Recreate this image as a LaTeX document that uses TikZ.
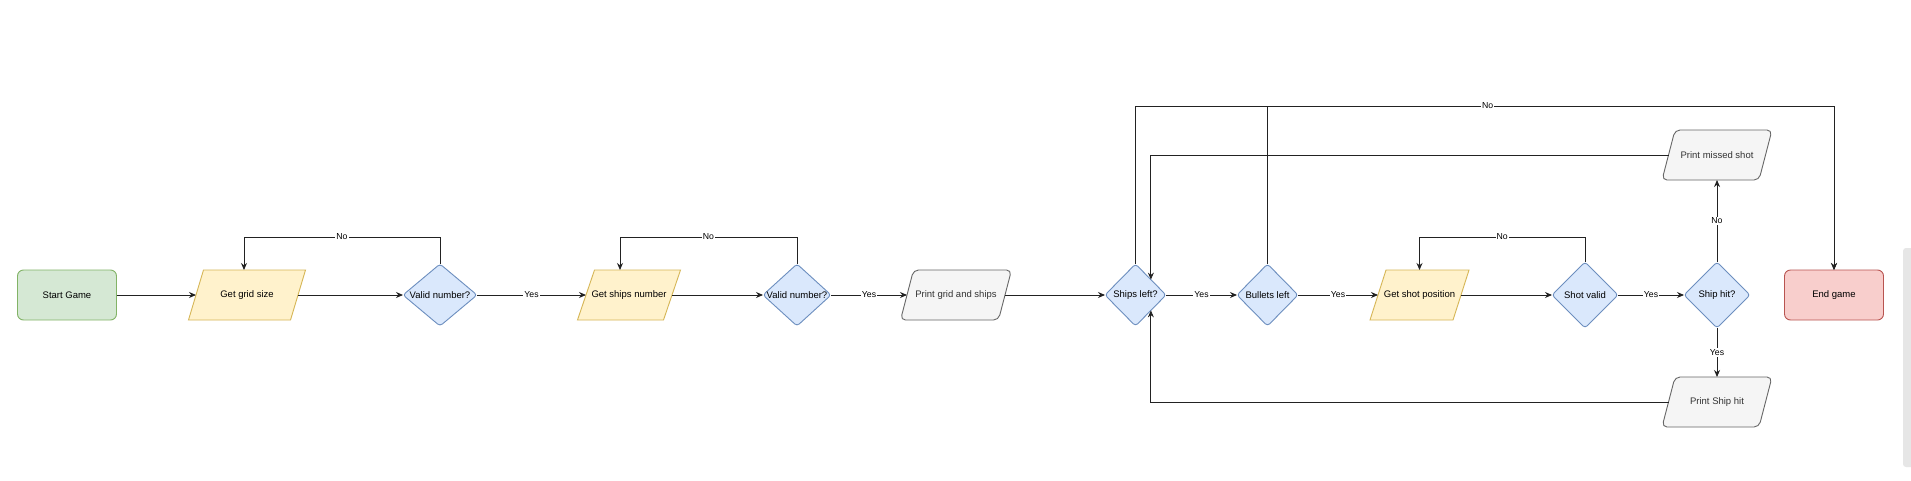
\documentclass[tikz,border=0pt]{standalone}
\usepackage{fontspec}
\setmainfont{Liberation Sans}
\usetikzlibrary{shapes.geometric,arrows.meta,backgrounds,calc}
\definecolor{gfill}{HTML}{D5E8D4}\definecolor{gline}{HTML}{82B366}
\definecolor{yfill}{HTML}{FFF2CC}\definecolor{yline}{HTML}{D6B656}
\definecolor{bfill}{HTML}{DAE8FC}\definecolor{bline}{HTML}{6C8EBF}
\definecolor{sfill}{HTML}{F5F5F5}\definecolor{sline}{HTML}{666666}\definecolor{stext}{HTML}{333333}
\definecolor{rfill}{HTML}{F8CECC}\definecolor{rline}{HTML}{B85450}
\definecolor{edgec}{HTML}{222222}
\definecolor{scrollc}{HTML}{E6E6E6}
\newcommand\mypara[3]{\draw[#3] ([xshift=#2/2]#1.north west) -- ([xshift=#2/2]#1.north east) -- ([xshift=-#2/2]#1.south east) -- ([xshift=-#2/2]#1.south west) -- cycle;}
\begin{document}
\begin{tikzpicture}[x=1pt,y=-1pt,font=\fontsize{9.5}{11}\selectfont,
  box/.style={rectangle,inner sep=0pt,outer sep=0pt,minimum height=50pt,text=black},
  term/.style={box,draw,line width=0.9pt,rounded corners=6pt,minimum width=99pt},
  dia/.style={diamond,draw=bline,fill=bfill,inner sep=0pt,outer sep=0pt,rounded corners=3pt,line width=0.9pt},
  ypara/.style={draw=yline,fill=yfill,line width=0.9pt},
  gpara/.style={draw=sline,fill=sfill,line width=0.9pt,rounded corners=5pt},
  arr/.style={draw=edgec,line width=0.9pt,-{Stealth[length=7pt,width=6pt]}},
  lbl/.style={fill=white,inner sep=1pt,font=\fontsize{8.7}{10}\selectfont,text=black}]
\useasboundingbox (0,0) rectangle (1911,480);

\node[term,draw=gline,fill=gfill] (start) at (67,295) {Start Game};
\node[box,minimum width=102pt] (grid) at (247,295) {Get grid size};
\node[dia,minimum width=74pt,minimum height=62pt,label=center:{Valid number?}] (v1) at (440,295) {};
\node[box,minimum width=86pt] (ships) at (629,295) {Get ships number};
\node[dia,minimum width=68pt,minimum height=62pt,label=center:{Valid number?}] (v2) at (797,295) {};
\node[box,minimum width=98pt,text=stext] (pgrid) at (956,295) {Print grid and ships};
\node[dia,minimum width=61pt,minimum height=62pt,label=center:{Ships left?}] (left) at (1135.5,295) {};
\node[dia,minimum width=61pt,minimum height=62pt,label=center:{Bullets left}] (bul) at (1267.5,295) {};
\node[box,minimum width=83pt] (shot) at (1419.5,295) {Get shot position};
\node[dia,minimum width=66pt,minimum height=66pt,label=center:{Shot valid}] (sv) at (1585,295) {};
\node[dia,minimum width=66pt,minimum height=66pt,label=center:{Ship hit?}] (hit) at (1717,295) {};
\node[box,minimum width=97pt,text=stext] (miss) at (1717,155) {Print missed shot};
\node[box,minimum width=97pt,text=stext] (phit) at (1717,402) {Print Ship hit};
\node[term,draw=rline,fill=rfill] (endg) at (1834,295) {End game};

\begin{scope}[on background layer]
\fill[white] (0,0) rectangle (1911,480);
\fill[scrollc,rounded corners=3pt] (1903,248) rectangle (1915,467);
\mypara{grid}{15}{ypara}
\mypara{ships}{17}{ypara}
\mypara{shot}{16}{ypara}
\mypara{pgrid}{13}{gpara}
\mypara{miss}{13}{gpara}
\mypara{phit}{13}{gpara}
\end{scope}

\draw[arr] (start.east) -- (grid.west);
\draw[arr] (grid.east) -- (v1.west);
\draw[arr] (v1.north) -- ++(0,-27) -| node[pos=0.25,lbl]{No} ([xshift=-3pt]grid.north);
\draw[arr] (v1.east) -- node[lbl]{Yes} (ships.west);
\draw[arr] (ships.east) -- (v2.west);
\draw[arr] (v2.north) -- ++(0,-27) -| node[pos=0.25,lbl]{No} ([xshift=-9pt]ships.north);
\draw[arr] (v2.east) -- node[lbl]{Yes} (pgrid.west);
\draw[arr] (pgrid.east) -- (left.west);
\draw[arr] (left.east) -- node[lbl]{Yes} (bul.west);
\draw[arr] (bul.east) -- node[lbl]{Yes} (shot.west);
\draw[arr] (shot.east) -- (sv.west);
\draw[arr] (sv.north) -- ++(0,-25) -| node[pos=0.25,lbl]{No} (shot.north);
\draw[arr] (sv.east) -- node[lbl]{Yes} (hit.west);
\draw[arr] (hit.north) -- node[lbl]{No} (miss.south);
\draw[arr] (hit.south) -- node[lbl]{Yes} (phit.north);
\draw[arr] (miss.west) -| (left.45);
\draw[arr] (phit.west) -| (left.-45);
\draw[arr] (bul.north) -- ++(0,-158) -| (endg.north);
\draw[arr] (left.north) -- ++(0,-158) -| node[pos=0.252,lbl]{No} (endg.north);
\end{tikzpicture}
\end{document}
